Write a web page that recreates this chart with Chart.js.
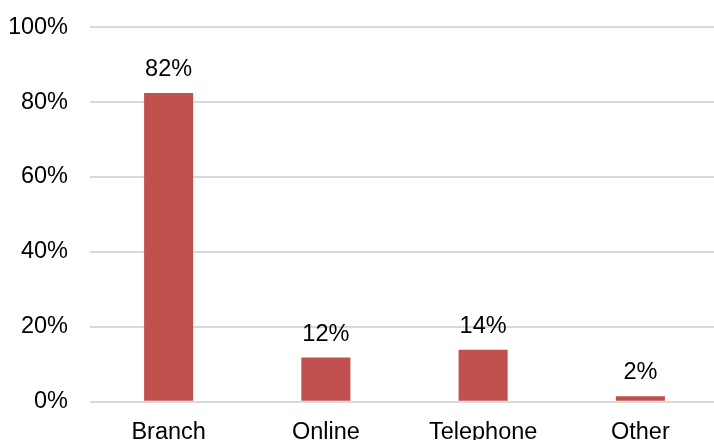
<!DOCTYPE html>
<html>
<head>
<meta charset="utf-8">
<script src="https://cdn.jsdelivr.net/npm/chart.js@4.4.0/dist/chart.umd.min.js"></script>
<style>
  html, body { margin: 0; padding: 0; background: #fff; overflow: hidden; }
  #wrap { width: 722px; height: 481px; position: absolute; left: 0; top: -9px; }
</style>
</head>
<body>
<div id="wrap"><canvas id="chart"></canvas></div>
<script>
const categories = ["Branch", "Online", "Telephone", "Other"];
const shares = [82.4, 11.8, 13.9, 1.5];
const yTicks = [0, 20, 40, 60, 80, 100];

const barColor = "#C0504D";
const fontFamily = "'Liberation Sans', Arial, sans-serif";
const fontSize = 23.5;

// value labels above each bar
const valueLabels = {
  id: "valueLabels",
  afterDatasetsDraw(chart) {
    const ctx = chart.ctx;
    const meta = chart.getDatasetMeta(0);
    ctx.save();
    ctx.font = fontSize + "px " + fontFamily;
    ctx.fillStyle = "#000";
    ctx.textAlign = "center";
    ctx.textBaseline = "alphabetic";
    meta.data.forEach((bar, i) => {
      const v = chart.data.datasets[0].data[i];
      ctx.fillText(Math.round(v) + "%", bar.x, bar.y - 17);
    });
    ctx.restore();
  }
};

new Chart(document.getElementById("chart"), {
  type: "bar",
  data: {
    labels: categories,
    datasets: [{
      data: shares,
      backgroundColor: barColor,
      borderWidth: 0,
      barPercentage: 0.312,
      categoryPercentage: 1
    }]
  },
  options: {
    responsive: true,
    maintainAspectRatio: false,
    animation: false,
    layout: { padding: { top: 18, left: 10, right: 3, bottom: 8 } },
    plugins: {
      legend: { display: false },
      tooltip: { enabled: false }
    },
    scales: {
      x: {
        grid: { display: false, drawTicks: false },
        border: { display: false },
        ticks: {
          color: "#000",
          padding: 17,
          font: { family: fontFamily, size: fontSize },
          maxRotation: 0
        }
      },
      y: {
        min: 0,
        max: 100,
        afterBuildTicks(scale) {
          scale.ticks = yTicks.map(v => ({ value: v }));
        },
        afterFit(scale) {
          scale.width = 80;
        },
        grid: { color: "#d9d9d9", lineWidth: 2, drawTicks: false },
        border: { display: false },
        ticks: {
          color: "#000",
          padding: 22,
          font: { family: fontFamily, size: fontSize },
          callback: v => v + "%"
        }
      }
    }
  },
  plugins: [valueLabels]
});
</script>
</body>
</html>
